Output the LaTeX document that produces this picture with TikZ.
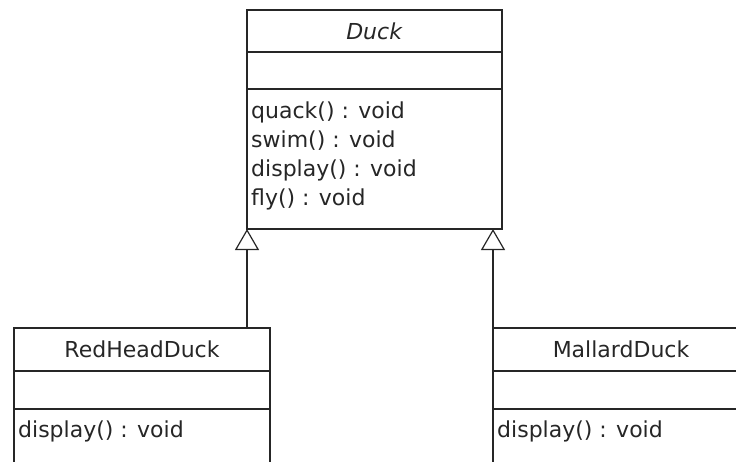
\documentclass[tikz,border=0pt]{standalone}
\usepackage{fontspec}
\setmainfont{DejaVu Sans}
\usetikzlibrary{positioning,arrows.meta}

\begin{document}
\begin{tikzpicture}[x=1pt,y=-1pt]
      \tikzstyle{cls}=[draw=black!85, line width=1.2pt, minimum width=255pt, inner sep=0pt, outer sep=0pt, text=black!85, font=\fontsize{22}{29}\selectfont];
      \tikzstyle{op}=[anchor=base west, inner sep=0pt, text=black!85, font=\fontsize{22}{29}\selectfont];
      \tikzstyle{inherit}=[draw=black!85, line width=1.2pt, -{Triangle[open, length=21pt, width=24pt]}];

      \useasboundingbox (0,0) rectangle (736,461);

      % superclass
      \node (duck) at (374.5,31)[cls, minimum height=42pt]{\textit{Duck}};
      \node (dattr) [below=0pt of duck, cls, minimum height=37pt]{};
      \node (dops) [below=0pt of dattr, cls, minimum height=140pt]{};
      \node (quack) at (251,118)[op]{quack() : void};
      \node (swim) at (251,147)[op]{swim() : void};
      \node (ddisplay) at (251,176)[op]{display() : void};
      \node (fly) at (251,205)[op]{fly() : void};

      % subclasses
      \node (red) at (142,349.5)[cls, minimum width=256pt, minimum height=43pt]{RedHeadDuck};
      \node (rattr) [below=0pt of red, cls, minimum width=256pt, minimum height=38pt]{};
      \node (rops) [below=0pt of rattr, cls, minimum width=256pt, minimum height=90pt]{};
      \node (rdisplay) at (18,437)[op]{display() : void};

      \node (mallard) at (621,349.5)[cls, minimum width=256pt, minimum height=43pt]{MallardDuck};
      \node (mattr) [below=0pt of mallard, cls, minimum width=256pt, minimum height=38pt]{};
      \node (mops) [below=0pt of mattr, cls, minimum width=256pt, minimum height=90pt]{};
      \node (mdisplay) at (497,437)[op]{display() : void};

      \draw [inherit] (red.north -| dops.south west) -- (dops.south west);
      \draw [inherit] (mallard.north west) -- (mallard.north west |- dops.south);

    \end{tikzpicture}
\end{document}
